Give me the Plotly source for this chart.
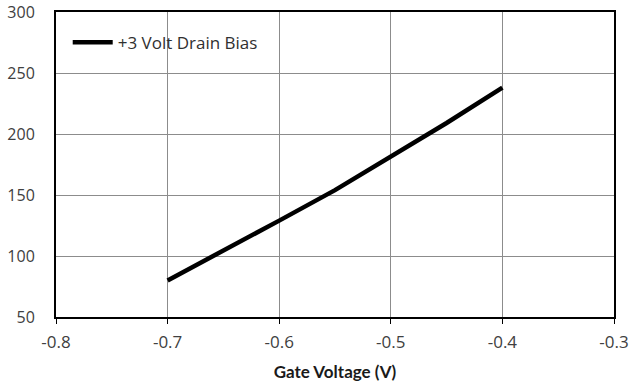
import plotly.graph_objects as go

# Gate voltage sweep and resulting drain current at +3 V drain bias
gate_voltage = [-0.70, -0.65, -0.60, -0.55, -0.50, -0.45, -0.40]
drain_current = [80, 104, 129, 154, 181, 209, 238]

x_ticks = [-0.8, -0.7, -0.6, -0.5, -0.4, -0.3]
y_ticks = [50, 100, 150, 200, 250, 300]

fig = go.Figure()
fig.add_trace(go.Scatter(
    x=gate_voltage, y=drain_current, mode="lines",
    name="+3 Volt Drain Bias",
    line=dict(color="black", width=4.5),
))

fig.update_layout(
    width=631, height=388,
    margin=dict(l=56, r=17, t=12, b=71),
    paper_bgcolor="white", plot_bgcolor="white",
    font=dict(family="Open Sans, sans-serif", size=17, color="#404040"),
    showlegend=True,
    legend=dict(x=0.021, y=0.958, xanchor="left", yanchor="top",
                bgcolor="rgba(0,0,0,0)",
                font=dict(family="Open Sans, sans-serif", size=17, color="#303030"),
                itemwidth=40),
    xaxis=dict(
        range=[-0.8, -0.3], tickvals=x_ticks,
        ticktext=[f"{v:.1f}" for v in x_ticks],
        showgrid=True, gridcolor="#8c8c8c", gridwidth=1,
        showline=True, linecolor="black", linewidth=2, mirror=True,
        ticks="outside", ticklen=5, tickcolor="black", tickwidth=1,
        ticklabelstandoff=4, ticklabeloverflow="allow",
        zeroline=False, automargin=False,
        title=dict(text="<b>Gate Voltage (V)</b>", standoff=14,
                   font=dict(family="Lato, sans-serif", size=17, color="#1a1a1a")),
    ),
    yaxis=dict(
        range=[50, 300], tickvals=y_ticks,
        tickfont=dict(size=16),
        showgrid=True, gridcolor="#8c8c8c", gridwidth=1,
        showline=True, linecolor="black", linewidth=2, mirror=True,
        ticks="", ticklabelstandoff=16, ticklabeloverflow="allow",
        zeroline=False, automargin=False,
    ),
)

fig.write_html("out.html")
